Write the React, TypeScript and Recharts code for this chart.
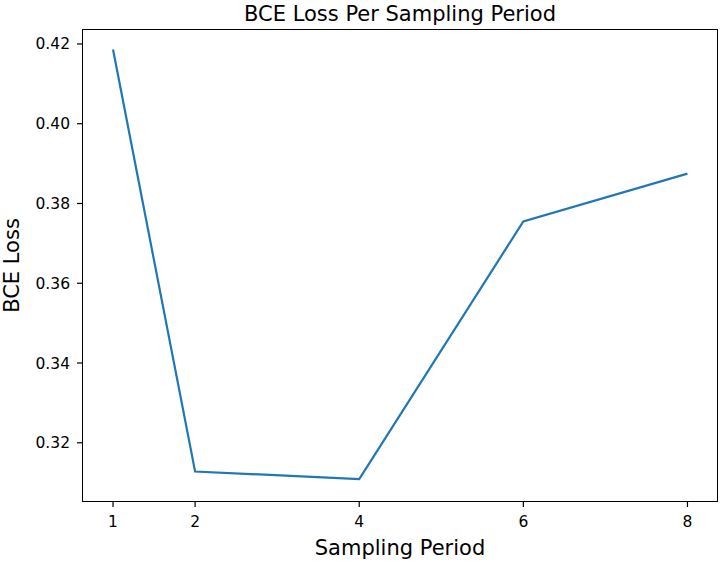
import React from 'react';
import { LineChart, Line, XAxis, YAxis } from 'recharts';

// Sampling periods and the BCE loss measured at each
const periods = [1, 2, 4, 6, 8];
const bceLoss = [0.4186, 0.3128, 0.3109, 0.3755, 0.3875];

const xTicks = [1, 2, 4, 6, 8];
const yTicks = [0.32, 0.34, 0.36, 0.38, 0.4, 0.42];

const chartTitle = 'BCE Loss Per Sampling Period';
const xLabel = 'Sampling Period';
const yLabel = 'BCE Loss';

const FONT = '"DejaVu Sans", sans-serif';
const W = 720;
const H = 563;
const PLOT = { left: 83, top: 30, right: 717, bottom: 501 };

const data = periods.map((p, i) => ({ period: p, loss: bceLoss[i] }));

export default function App() {
    const tickStyle = { fontSize: 15.5, fill: '#000', fontFamily: FONT };
    return (
        <div style={{ position: 'absolute', left: 0, top: 0, width: W, height: H, background: '#fff' }}>
            <LineChart
                width={W}
                height={H}
                data={data}
                margin={{ top: PLOT.top, right: W - PLOT.right, bottom: 0, left: 0 }}
            >
                <XAxis
                    dataKey="period"
                    type="number"
                    domain={[0.634, 8.36]}
                    ticks={xTicks}
                    height={H - PLOT.bottom}
                    axisLine={false}
                    tickLine={{ stroke: '#000', strokeWidth: 1.2 }}
                    tickSize={6}
                    tickMargin={9}
                    tick={tickStyle}
                    allowDataOverflow
                />
                <YAxis
                    type="number"
                    domain={[0.3054, 0.4235]}
                    ticks={yTicks}
                    width={PLOT.left}
                    axisLine={false}
                    tickLine={{ stroke: '#000', strokeWidth: 1.2 }}
                    tickSize={6}
                    tickMargin={7}
                    tick={tickStyle}
                    tickFormatter={(v: number) => v.toFixed(2)}
                    allowDataOverflow
                />
                <Line
                    type="linear"
                    dataKey="loss"
                    stroke="#1f77b4"
                    strokeWidth={2.2}
                    dot={false}
                    activeDot={false}
                    isAnimationActive={false}
                />
            </LineChart>
            <div
                style={{
                    position: 'absolute',
                    left: PLOT.left - 1,
                    top: PLOT.top - 1,
                    width: PLOT.right - PLOT.left,
                    height: PLOT.bottom - PLOT.top,
                    border: '1.2px solid #000',
                    pointerEvents: 'none',
                }}
            />
            <svg
                width={W}
                height={H}
                style={{ position: 'absolute', left: 0, top: 0, pointerEvents: 'none' }}
            >
                <text x={400} y={21} textAnchor="middle" fontSize={21} fontFamily={FONT} fill="#000">
                    {chartTitle}
                </text>
                <text x={400} y={555} textAnchor="middle" fontSize={21} fontFamily={FONT} fill="#000">
                    {xLabel}
                </text>
                <text
                    x={19}
                    y={265.5}
                    textAnchor="middle"
                    fontSize={21}
                    fontFamily={FONT}
                    fill="#000"
                    transform="rotate(-90 19 265.5)"
                >
                    {yLabel}
                </text>
            </svg>
        </div>
    );
}
